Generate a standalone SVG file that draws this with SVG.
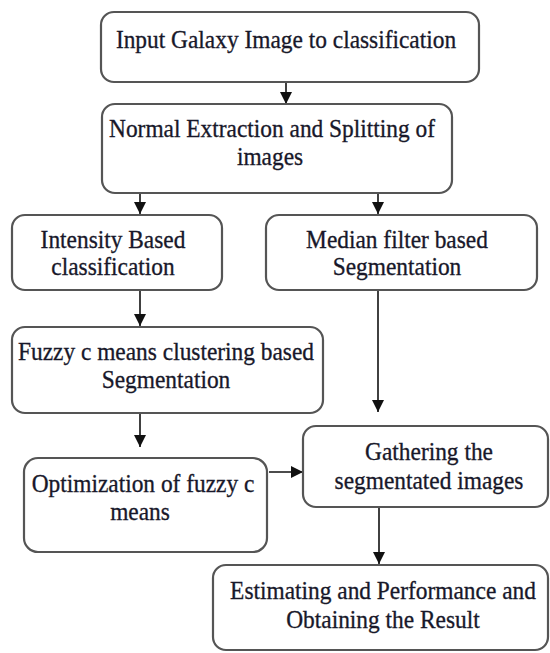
<svg xmlns="http://www.w3.org/2000/svg" width="550" height="653" viewBox="0 0 550 653">
<style>
.box{fill:#fff;stroke:#555;stroke-width:2.2}
.t{font-family:'Liberation Serif','Times New Roman',serif;font-size:23.4px;fill:#18182a;stroke:#18182a;stroke-width:0.3;text-anchor:middle}
.c{stroke:#111;stroke-width:1.6;fill:none}
</style>
<defs>
<marker id="ah" markerUnits="userSpaceOnUse" markerWidth="12" markerHeight="14" viewBox="0 0 12 14" refX="12" refY="7" orient="auto">
<path d="M0,1 L12,7 L0,13 Z" fill="#111"/>
</marker>
</defs>
<rect width="550" height="653" fill="#fff"/>
<g id="connectors">
<line class="c" x1="286" y1="82" x2="286" y2="104" marker-end="url(#ah)"/>
<line class="c" x1="140" y1="193" x2="140" y2="214" marker-end="url(#ah)"/>
<line class="c" x1="378" y1="193" x2="378" y2="214" marker-end="url(#ah)"/>
<line class="c" x1="140" y1="290" x2="140" y2="326" marker-end="url(#ah)"/>
<line class="c" x1="378" y1="290" x2="378" y2="412" marker-end="url(#ah)"/>
<line class="c" x1="140" y1="413" x2="140" y2="447" marker-end="url(#ah)"/>
<line class="c" x1="269" y1="472" x2="303" y2="472" marker-end="url(#ah)"/>
<line class="c" x1="379" y1="507" x2="379" y2="564" marker-end="url(#ah)"/>
</g>
<g id="input">
<rect class="box" x="101" y="12" width="378" height="70" rx="13"/>
<text class="t" transform="translate(286,48) scale(1,1.1)">Input Galaxy Image to classification</text>
</g>
<g id="normal">
<rect class="box" x="102" y="104" width="350" height="89" rx="13"/>
<text class="t" transform="translate(272,137) scale(1,1.1)">Normal Extraction and Splitting of</text>
<text class="t" transform="translate(270,165) scale(1,1.1)">images</text>
</g>
<g id="intensity">
<rect class="box" x="12" y="215" width="210" height="75" rx="13"/>
<text class="t" transform="translate(113,248) scale(1,1.1)">Intensity Based</text>
<text class="t" transform="translate(113,275) scale(1,1.1)">classification</text>
</g>
<g id="median">
<rect class="box" x="266" y="215" width="271" height="75" rx="13"/>
<text class="t" transform="translate(397,248) scale(1,1.1)">Median filter based</text>
<text class="t" transform="translate(397,275) scale(1,1.1)">Segmentation</text>
</g>
<g id="fuzzy">
<rect class="box" x="12" y="327" width="311" height="86" rx="13"/>
<text class="t" transform="translate(166,360) scale(1,1.1)">Fuzzy c means clustering based</text>
<text class="t" transform="translate(166,388) scale(1,1.1)">Segmentation</text>
</g>
<g id="optimization">
<rect class="box" x="24" y="458" width="243" height="94" rx="14"/>
<text class="t" transform="translate(143,492) scale(1,1.1)">Optimization of fuzzy c</text>
<text class="t" transform="translate(140,520) scale(1,1.1)">means</text>
</g>
<g id="gathering">
<rect class="box" x="303" y="426" width="245" height="81" rx="13"/>
<text class="t" transform="translate(429,460) scale(1,1.1)">Gathering the</text>
<text class="t" transform="translate(429,489) scale(1,1.1)">segmentated images</text>
</g>
<g id="estimating">
<rect class="box" x="213" y="565" width="335" height="85" rx="13"/>
<text class="t" transform="translate(383,599) scale(1,1.1)">Estimating and Performance and</text>
<text class="t" transform="translate(383,628) scale(1,1.1)">Obtaining the Result</text>
</g>
</svg>
